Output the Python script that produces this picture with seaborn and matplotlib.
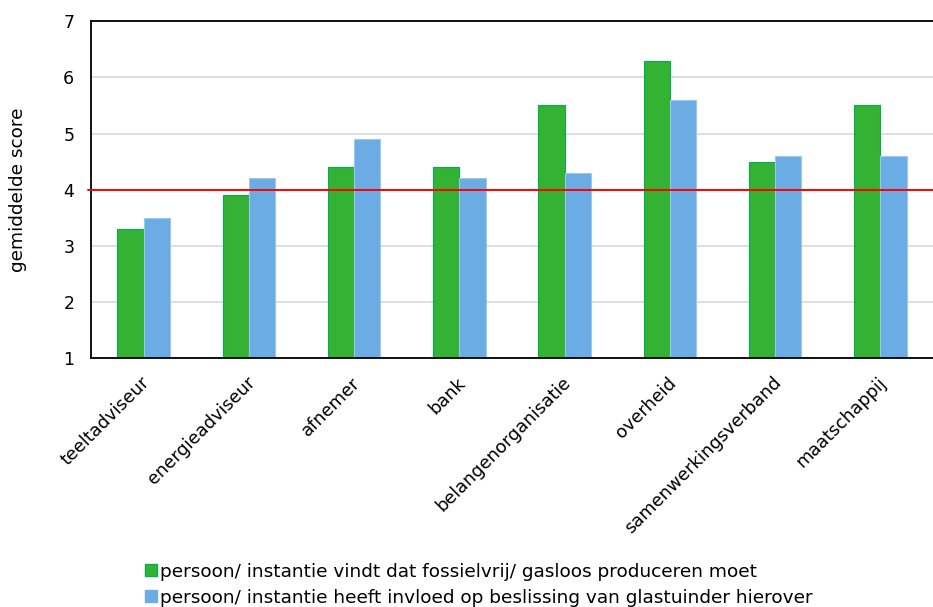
import matplotlib
matplotlib.use("Agg")
import matplotlib.pyplot as plt
import matplotlib.transforms as mtransforms
from matplotlib.patches import Patch
import seaborn as sns
import pandas as pd

categories = ["teeltadviseur", "energieadviseur", "afnemer", "bank",
              "belangenorganisatie", "overheid", "samenwerkingsverband", "maatschappij"]
series_names = [
    "persoon/ instantie vindt dat fossielvrij/ gasloos produceren moet",
    "persoon/ instantie heeft invloed op beslissing van glastuinder hierover",
]
vindt = [3.3, 3.9, 4.4, 4.4, 5.5, 6.3, 4.5, 5.5]
invloed = [3.5, 4.2, 4.9, 4.2, 4.3, 5.6, 4.6, 4.6]
y_ticks = [1, 2, 3, 4, 5, 6, 7]
reference_level = 4

df = pd.DataFrame({
    "categorie": categories * 2,
    "reeks": [series_names[0]] * len(categories) + [series_names[1]] * len(categories),
    "score": vindt + invloed,
})

sns.set_theme(style="white")
plt.rcParams["font.family"] = ["DejaVu Sans"]
for key in ["text.color", "axes.labelcolor", "xtick.color", "ytick.color"]:
    plt.rcParams[key] = "black"

green = "#34B233"
blue = "#6CACE4"
palette = {series_names[0]: green, series_names[1]: blue}

fig = plt.figure(figsize=(9.33, 6.07), dpi=100)
ax = fig.add_axes([0.0975, 0.41, 0.9025, 0.555])

sns.barplot(data=df, x="categorie", y="score", hue="reeks", order=categories,
            hue_order=series_names, palette=palette, width=0.5, saturation=1,
            bottom=0, ax=ax, legend=False)

# subtle outlines on the bars
for i, patch in enumerate(ax.patches):
    if i < len(categories):
        patch.set_edgecolor("#00B050")
    else:
        patch.set_edgecolor("#9CC8EE")
    patch.set_linewidth(0.8)

ax.set_ylim(1, 7)
ax.set_xlim(-0.5, len(categories) - 0.5)
ax.set_yticks(y_ticks)
ax.set_yticklabels([str(t) for t in y_ticks], fontsize=12.5)
ax.yaxis.grid(True, color="#D9D9D9", linewidth=1.2)
ax.set_axisbelow(True)

ax.axhline(reference_level, color="#FF0000", linewidth=1.4, zorder=5, xmin=-0.004, clip_on=False)

for side in ["left", "bottom", "top"]:
    ax.spines[side].set_visible(True)
    ax.spines[side].set_color("black")
    ax.spines[side].set_linewidth(1.3)
ax.spines["right"].set_visible(False)

ax.tick_params(axis="y", length=0, pad=12)
ax.tick_params(axis="x", length=0, pad=4)
ax.set_xlabel("")
ax.set_ylabel("gemiddelde score", fontsize=13.3, labelpad=26)

ax.set_xticks(range(len(categories)))
ax.set_xticklabels(categories, rotation=45, ha="right", rotation_mode="anchor", fontsize=12.8)
offset = mtransforms.ScaledTranslation(-0.03, -0.1, fig.dpi_scale_trans)
for lbl in ax.get_xticklabels():
    lbl.set_transform(lbl.get_transform() + offset)

handles = [Patch(facecolor=green, edgecolor="#00B050"), Patch(facecolor=blue, edgecolor=blue)]
fig.legend(handles, series_names, loc="upper left", bbox_to_anchor=(0.148, 0.085),
           frameon=False, fontsize=13.3, handlelength=0.6, handleheight=0.6,
           handletextpad=0.2, labelspacing=0.42, borderaxespad=0)

fig.savefig("out.png", dpi=100)
